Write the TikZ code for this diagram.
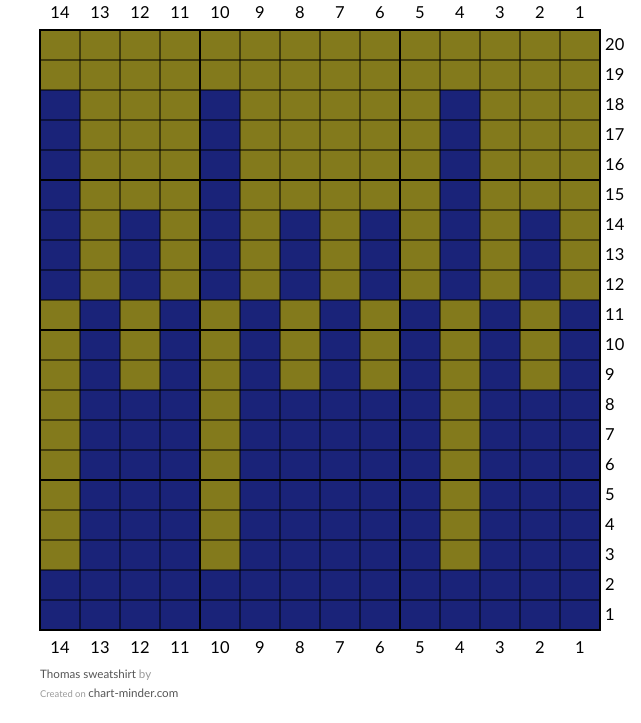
\documentclass[tikz,border=0pt]{standalone}
\usepackage{fontspec}
\setmainfont{Lato}
\definecolor{chartOlive}{HTML}{837A1C}
\definecolor{chartBlue}{HTML}{1A2379}
\colorlet{stitch1}{chartOlive}
\colorlet{stitch0}{chartBlue}
\definecolor{footDark}{HTML}{555555}
\definecolor{footLight}{HTML}{9A9A9A}

\begin{document}
\begin{tikzpicture}[x=1pt,y=-1pt,
  thinrule/.style={black,opacity=0.5,line width=1.3pt},
  thickrule/.style={black,line width=2.6pt},
  numlabel/.style={inner sep=0pt,font=\fontsize{16.5}{18}\selectfont}]
\useasboundingbox (0,0) rectangle (640,723);
% stitches, one list per group of rows, read from column 14 to column 1
\foreach \rows/\pat in {
  {20,19}/{1,1,1,1,1,1,1,1,1,1,1,1,1,1},
  {18,17,16,15}/{0,1,1,1,0,1,1,1,1,1,0,1,1,1},
  {14,13,12}/{0,1,0,1,0,1,0,1,0,1,0,1,0,1},
  {11,10,9}/{1,0,1,0,1,0,1,0,1,0,1,0,1,0},
  {8,7,6,5,4,3}/{1,0,0,0,1,0,0,0,0,0,1,0,0,0},
  {2,1}/{0,0,0,0,0,0,0,0,0,0,0,0,0,0}} {
  \foreach \r in \rows {
    \foreach \v [count=\i] in \pat {
      \fill[stitch\v] ({40*\i},{30+(20-\r)*30}) rectangle ++(40,30);
    }
  }
}
% grid
\foreach \i in {1,...,13}
  \draw[thinrule] ({40+\i*40},30) -- ({40+\i*40},630);
\foreach \j in {1,...,19}
  \draw[thinrule] (40,{30+\j*30}) -- (600,{30+\j*30});
\foreach \x in {200,400}
  \draw[thickrule] (\x,30) -- (\x,630);
\foreach \y in {180,330,480}
  \draw[thickrule] (40,\y) -- (600,\y);
\draw[thickrule] (40,30) rectangle (600,630);
% column and row numbers
\foreach \c in {1,...,14} {
  \node[numlabel] (top-\c) at ({60+(14-\c)*40},13) {\c};
  \node[numlabel] (bot-\c) at ({60+(14-\c)*40},648) {\c};
}
\foreach \r in {1,...,20}
  \node[numlabel,anchor=west] (row-\r) at (605,{45+(20-\r)*30}) {\r};
% footer
\node[anchor=west,inner sep=0pt,font=\fontsize{11.6}{13}\selectfont] (title) at (40,675)
  {\textcolor{footDark}{Thomas sweatshirt} \textcolor{footLight}{by}};
\node[anchor=west,inner sep=0pt] (credit) at (40,693)
  {\textcolor{footLight}{\fontsize{9.4}{11}\selectfont Created on}
   \textcolor{footDark}{\fontsize{11.6}{13}\selectfont chart-minder.com}};
\end{tikzpicture}
\end{document}
